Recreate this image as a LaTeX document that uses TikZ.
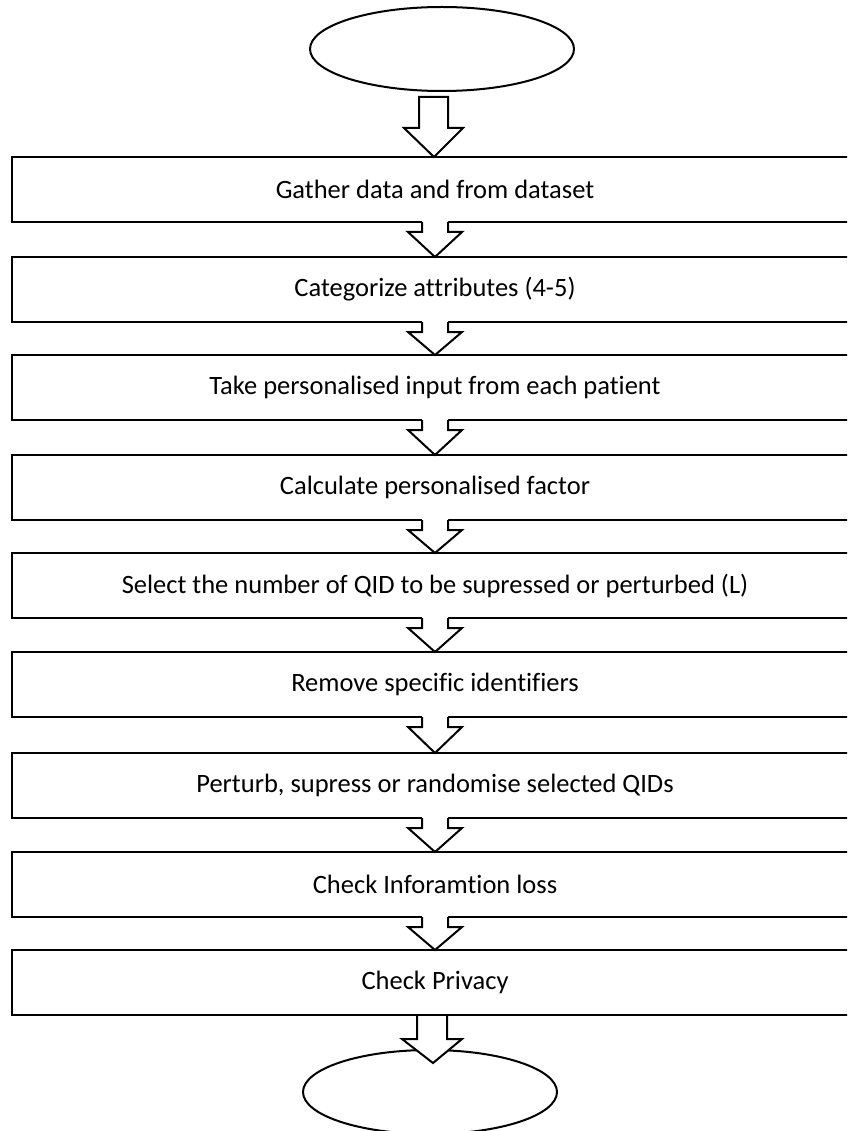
\documentclass[tikz,border=0pt]{standalone}
\usepackage{fontspec}
\setmainfont{Carlito}[RawFeature={-liga;-clig}]
\usetikzlibrary{calc,shapes.geometric}
\tikzset{
  stepbox/.style={draw, line width=2.3pt, minimum width=846pt, minimum height=65pt,
    anchor=north west, inner sep=0pt, outer sep=0pt,
    font=\fontsize{26.5}{31}\selectfont},
  terminal/.style={draw, ellipse, line width=2pt, inner sep=0pt, outer sep=0pt},
  arrowline/.style={draw, line width=2pt, line join=miter},
}
\begin{document}
\begin{tikzpicture}[x=1pt,y=-1pt]
\useasboundingbox (0,0) rectangle (847,1131);
\clip (0,0) rectangle (847,1131);
\node[terminal, minimum width=264pt, minimum height=84pt] (start) at (442,49) {};
\node[stepbox] (b1) at (12,157) {Gather data and from dataset};
\node[stepbox] (b2) at (12,257) {Categorize attributes (4-5)};
\node[stepbox] (b3) at (12,355) {Take personalised input from each patient};
\node[stepbox] (b4) at (12,455) {Calculate personalised factor};
\node[stepbox] (b5) at (12,553) {Select the number of QID to be supressed or perturbed (L)};
\node[stepbox] (b6) at (12,652) {Remove specific identifiers};
\node[stepbox] (b7) at (12,753) {Perturb, supress or randomise selected QIDs};
\node[stepbox] (b8) at (12,852) {Check Inforamtion loss};
\node[stepbox] (b9) at (12,950) {Check Privacy};
\node[terminal, minimum width=254pt, minimum height=84pt] (end) at (430,1092) {};
% top arrow
\coordinate (ta) at ($(b1.north)+(-1,0)$);
\filldraw[arrowline, fill=white] ($(ta)+(-15,-60)$) -- ($(ta)+(-15,-29)$) -- ($(ta)+(-30,-29)$) -- (ta)
  -- ($(ta)+(29,-29)$) -- ($(ta)+(14,-29)$) -- ($(ta)+(14,-60)$) -- cycle;
% arrows between boxes
\foreach \a/\b in {b1/b2,b2/b3,b3/b4,b4/b5,b5/b6,b6/b7,b7/b8,b8/b9}{
  \fill[white] ($(\a.south)+(-13,-2)$) -- ($(\a.south)+(-13,10)$) -- ($(\a.south)+(-27,10)$) -- (\b.north)
    -- ($(\a.south)+(27,10)$) -- ($(\a.south)+(13,10)$) -- ($(\a.south)+(13,-2)$) -- cycle;
  \draw[arrowline] ($(\a.south)+(-13,0)$) -- ($(\a.south)+(-13,10)$) -- ($(\a.south)+(-27,10)$) -- (\b.north)
    -- ($(\a.south)+(27,10)$) -- ($(\a.south)+(13,10)$) -- ($(\a.south)+(13,0)$);
}
% bottom arrow
\coordinate (bt) at ($(end.north)+(3,13)$);
\coordinate (bs) at ($(b9.south)+(-3,0)$);
\fill[white] ($(bs)+(-15,1.2)$) -- ($(bs)+(-15,24)$) -- ($(bs)+(-30,24)$) -- (bt)
  -- ($(bs)+(30,24)$) -- ($(bs)+(15,24)$) -- ($(bs)+(15,1.2)$) -- cycle;
\draw[arrowline] ($(bs)+(-15,0)$) -- ($(bs)+(-15,24)$) -- ($(bs)+(-30,24)$) -- (bt)
  -- ($(bs)+(30,24)$) -- ($(bs)+(15,24)$) -- ($(bs)+(15,0)$);
\end{tikzpicture}
\end{document}
